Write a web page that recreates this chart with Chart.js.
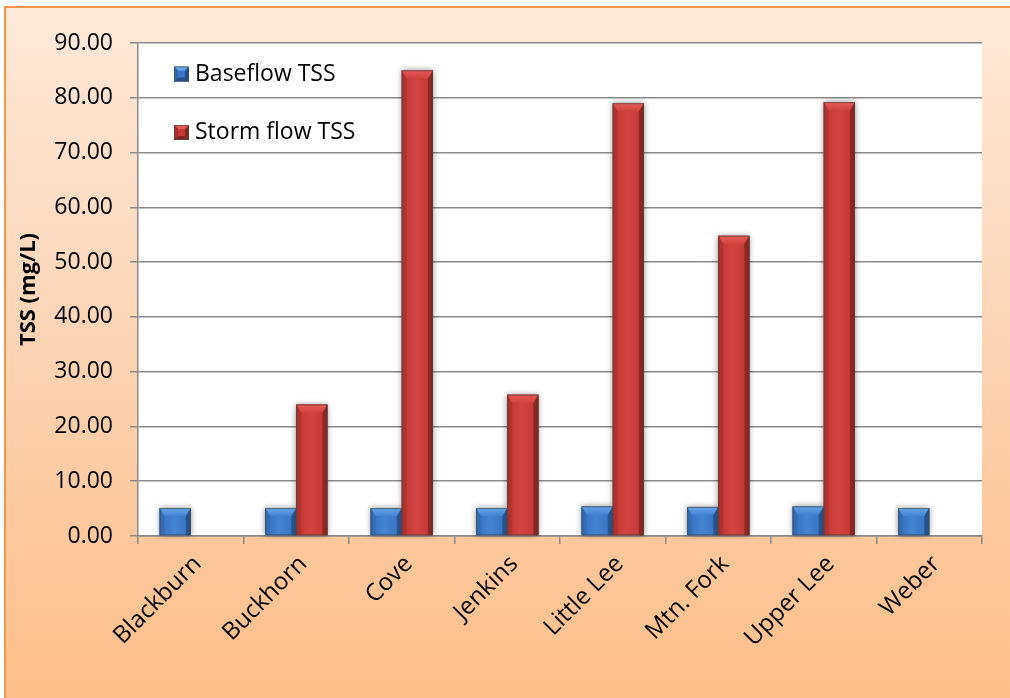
<!DOCTYPE html>
<html>
<head>
<meta charset="utf-8">
<title>TSS by site</title>
<script src="https://cdn.jsdelivr.net/npm/chart.js@4.4.1/dist/chart.umd.min.js"></script>
<style>
  html, body { margin: 0; padding: 0; background: #ffffff; overflow: hidden; }
  canvas { display: block; }
</style>
</head>
<body>
<canvas id="tss" width="1010" height="698"></canvas>
<script>
// Sites sampled
const sites = ['Blackburn', 'Buckhorn', 'Cove', 'Jenkins', 'Little Lee', 'Mtn. Fork', 'Upper Lee', 'Weber'];
// Mean total suspended solids (mg/L)
const baseflowTSS = [5.1, 5.1, 5.1, 5.1, 5.4, 5.3, 5.4, 5.1];
const stormflowTSS = [null, 24.0, 85.0, 25.8, 79.0, 54.8, 79.2, null];
// Value axis
const yMin = 0, yMax = 90, yStep = 10;

const FONT = "'Open Sans', 'Liberation Sans', sans-serif";

// Colour sets for the bevelled bars: body, light top, left edge, right edge
const palettes = [
  { body: '#3a77c3', mid: '#4383cf', top: '#67a6ea', left: '#2f67ad', right: '#244f86' },
  { body: '#c63a35', mid: '#d2433e', top: '#e65a55', left: '#a92f2b', right: '#842420' }
];

// Page background: peach gradient panel with an orange frame
const panelBackground = {
  id: 'panelBackground',
  beforeDraw(chart) {
    const { ctx, width, height, chartArea } = chart;
    ctx.save();
    ctx.fillStyle = '#ffffff';
    ctx.fillRect(0, 0, width, height);
    const g = ctx.createLinearGradient(0, 7, 0, height);
    g.addColorStop(0, '#fde9da');
    g.addColorStop(1, '#fdbe89');
    ctx.fillStyle = g;
    ctx.fillRect(5, 7, width - 5, height - 7);
    ctx.fillStyle = '#f79646';
    ctx.fillRect(4, 6, width - 4, 2);
    ctx.fillRect(4, 6, 2, height - 6);
    ctx.fillStyle = '#ffffff';
    ctx.fillRect(chartArea.left, chartArea.top, chartArea.right - chartArea.left, chartArea.bottom - chartArea.top);
    ctx.restore();
  }
};

function barRects(chart) {
  const out = [];
  chart.data.datasets.forEach((ds, di) => {
    const meta = chart.getDatasetMeta(di);
    meta.data.forEach((el, i) => {
      const v = ds.data[i];
      if (v === null || v === undefined) return;
      const p = el.getProps(['x', 'y', 'base', 'width'], true);
      out.push({
        di,
        l: p.x - p.width / 2,
        r: p.x + p.width / 2,
        t: Math.min(p.y, p.base),
        b: Math.max(p.y, p.base)
      });
    });
  });
  return out;
}

// Soft shadow under bars, then bevel shading over each bar the library placed
const bevelBars = {
  id: 'bevelBars',
  beforeDatasetsDraw(chart) {
    const { ctx } = chart;
    ctx.save();
    ctx.shadowColor = 'rgba(0,0,0,0.45)';
    ctx.shadowBlur = 6;
    ctx.shadowOffsetX = 0;
    ctx.shadowOffsetY = 0;
    ctx.fillStyle = '#888888';
    barRects(chart).forEach(r => ctx.fillRect(r.l, r.t, r.r - r.l, r.b - r.t));
    ctx.restore();
  },
  afterDatasetsDraw(chart) {
    const { ctx } = chart;
    ctx.save();
    barRects(chart).forEach(r => {
      const c = palettes[r.di];
      const w = r.r - r.l, h = r.b - r.t;
      const bv = Math.min(8, h / 2, w / 2);
      const side = Math.min(5, w / 4);
      // body
      const g = ctx.createLinearGradient(r.l, 0, r.r, 0);
      g.addColorStop(0, c.left);
      g.addColorStop(0.16, c.body);
      g.addColorStop(0.45, c.mid);
      g.addColorStop(0.84, c.body);
      g.addColorStop(1, c.right);
      ctx.fillStyle = g;
      ctx.fillRect(r.l, r.t, w, h);
      // left edge
      ctx.beginPath();
      ctx.moveTo(r.l, r.t);
      ctx.lineTo(r.l + side, r.t + bv);
      ctx.lineTo(r.l + side, r.b);
      ctx.lineTo(r.l, r.b);
      ctx.closePath();
      ctx.fillStyle = c.left;
      ctx.globalAlpha = 0.55;
      ctx.fill();
      // right edge
      ctx.beginPath();
      ctx.moveTo(r.r, r.t);
      ctx.lineTo(r.r - side, r.t + bv);
      ctx.lineTo(r.r - side, r.b);
      ctx.lineTo(r.r, r.b);
      ctx.closePath();
      ctx.fillStyle = c.right;
      ctx.globalAlpha = 0.8;
      ctx.fill();
      ctx.globalAlpha = 1;
      // top facet
      const tg = ctx.createLinearGradient(0, r.t, 0, r.t + bv);
      tg.addColorStop(0, c.top);
      tg.addColorStop(1, c.mid);
      ctx.beginPath();
      ctx.moveTo(r.l, r.t);
      ctx.lineTo(r.r, r.t);
      ctx.lineTo(r.r - side, r.t + bv);
      ctx.lineTo(r.l + side, r.t + bv);
      ctx.closePath();
      ctx.fillStyle = tg;
      ctx.fill();
      // outline
      ctx.strokeStyle = 'rgba(70,70,70,0.65)';
      ctx.lineWidth = 1;
      ctx.strokeRect(r.l + 0.5, r.t + 0.5, w - 1, h - 1);
    });
    ctx.restore();
  }
};

// Legend drawn inside the plot, top-left
const insideLegend = {
  id: 'insideLegend',
  afterDraw(chart) {
    const { ctx, chartArea } = chart;
    ctx.save();
    chart.data.datasets.forEach((ds, i) => {
      const c = palettes[i];
      const s = 15;
      const x = chartArea.left + 36;
      const cy = chartArea.top + 31 + i * 58.5;
      const y = cy - s / 2;
      const k = 4;
      ctx.fillStyle = c.body;
      ctx.fillRect(x, y, s, s);
      // top
      ctx.beginPath(); ctx.moveTo(x, y); ctx.lineTo(x + s, y); ctx.lineTo(x + s - k, y + k); ctx.lineTo(x + k, y + k); ctx.closePath();
      ctx.fillStyle = c.top; ctx.fill();
      // left
      ctx.beginPath(); ctx.moveTo(x, y); ctx.lineTo(x + k, y + k); ctx.lineTo(x + k, y + s - k); ctx.lineTo(x, y + s); ctx.closePath();
      ctx.fillStyle = c.left; ctx.fill();
      // right
      ctx.beginPath(); ctx.moveTo(x + s, y); ctx.lineTo(x + s - k, y + k); ctx.lineTo(x + s - k, y + s - k); ctx.lineTo(x + s, y + s); ctx.closePath();
      ctx.fillStyle = c.right; ctx.fill();
      // bottom
      ctx.beginPath(); ctx.moveTo(x, y + s); ctx.lineTo(x + k, y + s - k); ctx.lineTo(x + s - k, y + s - k); ctx.lineTo(x + s, y + s); ctx.closePath();
      ctx.fillStyle = c.right; ctx.fill();
      ctx.strokeStyle = 'rgba(70,70,70,0.6)';
      ctx.lineWidth = 1;
      ctx.strokeRect(x + 0.5, y + 0.5, s - 1, s - 1);
      ctx.fillStyle = '#000000';
      ctx.font = '23px ' + FONT;
      ctx.textAlign = 'left';
      ctx.textBaseline = 'middle';
      ctx.fillText(ds.label, x + s + 6, cy);
    });
    ctx.restore();
  }
};

new Chart(document.getElementById('tss'), {
  type: 'bar',
  data: {
    labels: sites,
    datasets: [
      { label: 'Baseflow TSS', data: baseflowTSS, backgroundColor: palettes[0].body, borderWidth: 0 },
      { label: 'Storm flow TSS', data: stormflowTSS, backgroundColor: palettes[1].body, borderWidth: 0 }
    ]
  },
  options: {
    responsive: false,
    animation: false,
    events: [],
    categoryPercentage: 0.59,
    barPercentage: 1.0,
    layout: { padding: { top: 43, right: 28, left: 0, bottom: 0 } },
    plugins: {
      legend: { display: false },
      tooltip: { enabled: false }
    },
    scales: {
      x: {
        grid: {
          offset: true,
          drawOnChartArea: false,
          drawTicks: true,
          tickLength: 8,
          color: '#8a8a8a',
          lineWidth: 1.5
        },
        border: { color: '#8a8a8a', width: 1.5 },
        ticks: {
          color: '#000000',
          font: { family: FONT, size: 24 },
          minRotation: 45,
          maxRotation: 45,
          padding: 6,
          labelOffset: 7,
          autoSkip: false
        },
        afterFit(scale) { scale.height = 162; }
      },
      y: {
        min: yMin,
        max: yMax,
        grid: {
          color: '#8a8a8a',
          lineWidth: 1.5,
          drawTicks: true,
          tickLength: 8
        },
        border: { color: '#8a8a8a', width: 1.5 },
        ticks: {
          stepSize: yStep,
          color: '#000000',
          font: { family: FONT, size: 23 },
          padding: 17,
          callback: v => Number(v).toFixed(2)
        },
        title: {
          display: true,
          text: 'TSS (mg/L)',
          color: '#000000',
          font: { family: FONT, size: 22, weight: 'bold' },
          padding: { top: 16, bottom: 0 }
        },
        afterFit(scale) { scale.width = 138; }
      }
    }
  },
  plugins: [panelBackground, bevelBars, insideLegend]
});
</script>
</body>
</html>
